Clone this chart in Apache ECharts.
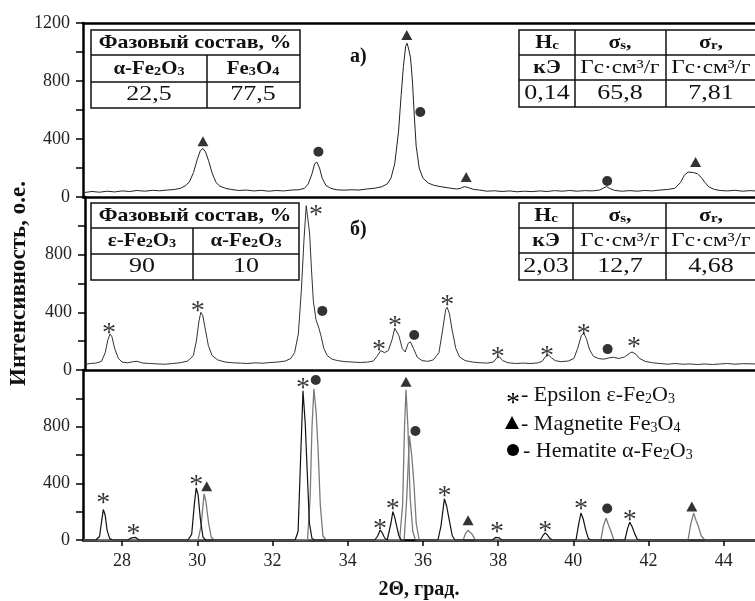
<!DOCTYPE html>
<html>
<head>
<meta charset="utf-8">
<script src="https://cdn.jsdelivr.net/npm/echarts@6/dist/echarts.min.js"></script>
<style>
html, body { margin: 0; padding: 0; background: #fff; }
#chart { width: 755px; height: 601px; }
</style>
</head>
<body>
<div id="chart"></div>
<script>
// 2θ range and tick labels
const X_MIN = 26.96;
const X_MAX = 44.83;
const xTicks = [28, 30, 32, 34, 36, 38, 40, 42, 44];

// а) measured pattern
const patternA = [
  [26.97,30],[27.2,38],[27.4,33],[27.6,40],[27.8,35],[28.0,42],[28.2,38],[28.4,45],[28.6,40],[28.8,46],
  [29.0,43],[29.2,48],[29.4,52],[29.55,60],[29.7,80],[29.8,110],[29.9,170],[30.0,260],[30.08,320],[30.15,335],
  [30.22,310],[30.3,250],[30.4,160],[30.5,100],[30.6,75],[30.75,60],[30.9,52],[31.1,45],[31.3,48],[31.5,42],
  [31.7,46],[31.9,40],[32.1,45],[32.3,42],[32.5,48],[32.7,50],[32.85,60],[32.95,90],[33.05,160],[33.12,230],
  [33.18,240],[33.25,200],[33.32,130],[33.42,80],[33.55,60],[33.7,50],[33.9,47],[34.1,50],[34.3,48],[34.5,55],
  [34.7,60],[34.9,70],[35.05,90],[35.15,130],[35.25,230],[35.35,450],[35.42,700],[35.48,900],[35.54,1040],[35.58,1060],
  [35.62,1020],[35.67,960],[35.72,800],[35.77,560],[35.82,350],[35.9,200],[36.0,130],[36.15,95],[36.3,80],[36.5,70],
  [36.7,62],[36.9,55],[37.0,60],[37.1,72],[37.2,65],[37.35,52],[37.5,48],[37.7,40],[37.9,43],[38.1,38],
  [38.3,42],[38.5,36],[38.7,40],[38.9,37],[39.1,42],[39.3,38],[39.5,44],[39.7,40],[39.9,45],[40.1,40],
  [40.3,44],[40.5,42],[40.7,48],[40.8,62],[40.88,72],[40.96,60],[41.1,45],[41.3,40],[41.5,44],[41.7,40],
  [41.9,45],[42.1,42],[42.3,48],[42.5,52],[42.7,60],[42.85,100],[42.95,150],[43.05,172],[43.2,168],[43.3,160],
  [43.4,135],[43.5,100],[43.6,70],[43.75,52],[43.9,45],[44.1,42],[44.3,46],[44.5,40],[44.7,44],[44.83,42]
];
const triA = [[30.15,385],[35.57,1117],[37.15,138],[43.25,241]];
const circA = [[33.22,312],[35.93,586],[40.9,110]];

// б) measured pattern
const patternB = [
  [26.97,40],[27.1,45],[27.25,48],[27.4,60],[27.5,120],[27.57,210],[27.63,250],[27.68,230],[27.75,150],[27.85,80],
  [27.95,55],[28.1,50],[28.25,58],[28.35,60],[28.5,48],[28.7,45],[28.9,42],[29.1,40],[29.3,45],[29.5,50],
  [29.7,62],[29.85,100],[29.93,200],[30.0,340],[30.05,400],[30.1,380],[30.17,280],[30.25,170],[30.35,100],[30.5,70],
  [30.7,55],[30.9,50],[31.1,48],[31.3,45],[31.5,50],[31.7,47],[31.9,52],[32.1,55],[32.3,62],[32.45,80],
  [32.55,120],[32.65,250],[32.73,550],[32.8,900],[32.86,1140],[32.9,1130],[32.95,950],[33.0,700],[33.05,480],[33.12,350],
  [33.2,290],[33.26,230],[33.33,150],[33.42,100],[33.55,75],[33.7,65],[33.9,58],[34.1,55],[34.3,52],[34.5,55],
  [34.65,62],[34.75,95],[34.85,135],[34.95,120],[35.05,135],[35.15,210],[35.22,290],[35.27,300],[35.33,240],[35.42,150],
  [35.5,125],[35.58,185],[35.64,195],[35.72,150],[35.82,90],[35.95,65],[36.1,60],[36.25,70],[36.4,120],[36.5,280],
  [36.58,420],[36.62,435],[36.68,390],[36.75,280],[36.85,150],[36.95,90],[37.1,65],[37.3,55],[37.5,50],[37.7,48],
  [37.85,55],[37.95,85],[38.02,90],[38.1,65],[38.25,50],[38.45,45],[38.65,48],[38.85,45],[39.05,50],[39.15,60],
  [39.25,95],[39.32,105],[39.4,85],[39.5,65],[39.65,58],[39.85,62],[40.0,80],[40.1,150],[40.2,240],[40.26,255],
  [40.33,220],[40.42,140],[40.52,95],[40.65,80],[40.8,75],[40.95,85],[41.05,88],[41.2,80],[41.35,90],[41.48,115],
  [41.55,125],[41.65,110],[41.75,80],[41.9,60],[42.1,50],[42.3,45],[42.5,40],[42.7,45],[42.9,40],[43.1,42],
  [43.3,38],[43.5,42],[43.7,38],[43.9,42],[44.1,45],[44.3,40],[44.5,44],[44.83,42]
];
const starB = [[27.6,312],[29.97,465],[33.12,1130],[34.8,195],[35.23,360],[36.62,506],[37.97,145],[39.28,152],[40.26,305],[41.6,215]];
const circB = [[33.29,410],[35.74,243],[40.9,145]];

// reference lines: epsilon, magnetite, hematite
const epsRef = [
  [26.97,0],[27.3,0],[27.4,25],[27.46,140],[27.5,215],[27.55,175],[27.6,70],[27.67,10],[27.75,0],
  [28.15,0],[28.25,15],[28.3,28],[28.36,18],[28.45,0],
  [29.75,0],[29.85,40],[29.92,250],[29.97,368],[30.02,320],[30.08,150],[30.15,20],[30.22,0],
  [32.6,0],[32.68,60],[32.75,600],[32.81,1054],[32.87,820],[32.92,500],[32.98,120],[33.05,10],[33.12,0],
  [34.72,0],[34.8,30],[34.86,69],[34.92,50],[34.98,15],[35.05,0],
  [35.08,0],[35.15,120],[35.2,200],[35.25,160],[35.3,100],[35.36,30],[35.42,0],
  [36.4,0],[36.48,100],[36.57,290],[36.63,240],[36.7,140],[36.78,30],[36.85,0],
  [37.85,0],[37.93,18],[37.97,22],[38.03,15],[38.1,0],
  [39.12,0],[39.2,35],[39.25,50],[39.31,35],[39.38,10],[39.45,0],
  [40.07,0],[40.14,110],[40.2,190],[40.26,150],[40.33,70],[40.4,10],[40.47,0],
  [41.37,0],[41.44,80],[41.5,125],[41.56,95],[41.63,45],[41.7,5],[41.77,0],
  [44.83,0]
];
const magRef = [
  [26.97,0],[30.02,0],[30.1,100],[30.18,326],[30.23,270],[30.3,120],[30.37,20],[30.45,0],
  [35.38,0],[35.46,250],[35.51,800],[35.55,1061],[35.6,800],[35.66,300],[35.73,60],[35.8,0],
  [37.07,0],[37.13,45],[37.2,70],[37.25,55],[37.31,40],[37.38,5],[37.45,0],
  [43.05,0],[43.12,110],[43.2,190],[43.26,140],[43.32,100],[43.4,30],[43.48,5],[43.55,0],[44.83,0]
];
const hemRef = [
  [26.97,0],[32.93,0],[33.0,300],[33.05,800],[33.1,1068],[33.16,900],[33.21,650],[33.27,250],[33.34,30],[33.42,0],
  [35.5,0],[35.57,300],[35.64,735],[35.7,600],[35.76,400],[35.82,120],[35.9,0],
  [40.73,0],[40.8,100],[40.87,155],[40.93,110],[41.0,60],[41.07,5],[41.14,0],[44.83,0]
];
const starC = [[27.5,320],[28.3,104],[29.97,450],[32.81,1130],[34.86,140],[35.2,278],[36.57,368],[37.97,118],[39.25,125],[40.2,277],[41.5,200]];
const triC = [[30.25,380],[35.55,1117],[37.2,139],[43.15,236]];
const circC = [[33.15,1130],[35.8,770],[40.9,222]];

const SERIF = '"Liberation Serif", "Times New Roman", serif';

const chart = echarts.init(document.getElementById('chart'));

const grids = [
  { left: 83, right: 0, top: 23, height: 174 },
  { left: 83, right: 0, top: 197, height: 173 },
  { left: 83, right: 0, top: 370, height: 174 }
];

const baseX = (gridIndex) => ({
  gridIndex, type: 'value', min: X_MIN, max: X_MAX,
  axisLine: { lineStyle: { color: '#000', width: 2.5 } },
  axisTick: { show: false }, axisLabel: { show: false }, splitLine: { show: false }
});

const baseY = (gridIndex, showTop) => ({
  gridIndex, type: 'value', min: 0, max: 1200, interval: 200,
  axisLine: { show: true, lineStyle: { color: '#000', width: 2.5 } },
  axisTick: { show: true, length: 7, lineStyle: { color: '#000', width: 1.5 } },
  axisLabel: {
    margin: 13, fontFamily: SERIF, fontSize: 18, color: '#222',
    formatter: (v) => (v % 400 === 0 && (showTop || v < 1200)) ? String(v) : ''
  },
  splitLine: { show: false }
});

const xAxes = [
  baseX(0),
  Object.assign(baseX(0), { position: 'top' }),
  baseX(1),
  Object.assign(baseX(2), {
    axisTick: { show: true, length: 6, customValues: xTicks, lineStyle: { color: '#000', width: 1.5 } },
    axisLabel: { show: true, customValues: xTicks, margin: 12, fontFamily: SERIF, fontSize: 18, color: '#222' },
    name: '2Θ, град.', nameLocation: 'middle', nameGap: 40,
    nameTextStyle: { fontFamily: SERIF, fontSize: 20, fontWeight: 'bold', color: '#111' }
  })
];

const yAxes = [
  baseY(0, true),
  Object.assign(baseY(1, false), {
    name: 'Интенсивность, о.е.', nameLocation: 'middle', nameRotate: 90, nameGap: 54,
    nameTextStyle: { fontFamily: SERIF, fontSize: 23, fontWeight: 'bold', color: '#111' }
  }),
  baseY(2, false)
];

const lineSeries = (data, xi, yi, color, width) => ({
  type: 'line', data, xAxisIndex: xi, yAxisIndex: yi, showSymbol: false,
  lineStyle: { color, width }, z: 2, silent: true
});

const starSeries = (data, xi, yi) => ({
  type: 'scatter', data, xAxisIndex: xi, yAxisIndex: yi, symbolSize: 1,
  itemStyle: { color: 'transparent' }, z: 5,
  label: { show: true, formatter: '*', position: 'inside', offset: [0, 9],
    fontFamily: SERIF, fontSize: 28, color: '#000' }
});

const markSeries = (data, xi, yi, symbol, size) => ({
  type: 'scatter', data, xAxisIndex: xi, yAxisIndex: yi, symbol, symbolSize: size,
  itemStyle: { color: '#000' }, z: 5
});

// table helpers
const rich = {
  s: { fontSize: 13, fontFamily: SERIF, fontWeight: 'bold', verticalAlign: 'bottom', fill: '#111' },
  sn: { fontSize: 14, fontFamily: SERIF, verticalAlign: 'bottom', fill: '#111' }
};
const cell = (x, y, text, bold, size, sx) => ({
  type: 'text', x, y, scaleX: sx, z: 20,
  style: {
    text, fill: '#111', align: 'center', verticalAlign: 'middle',
    fontFamily: SERIF, fontSize: size, fontWeight: bold ? 'bold' : 'normal', rich
  }
});
const head = (x, y, t) => cell(x, y, t, true, 19, 1.15);
const num = (x, y, t) => cell(x, y, t, false, 20, 1.3);
const unit = (x, y) => cell(x, y, 'Гс·см³/г', false, 19, 1.22);
const box = (x1, y1, x2, y2) => ({
  type: 'rect', shape: { x: x1, y: y1, width: x2 - x1, height: y2 - y1 }, z: 19,
  style: { fill: '#fff', stroke: '#111', lineWidth: 1.5 }
});
const hl = (x1, x2, y) => ({
  type: 'line', shape: { x1, y1: y, x2, y2: y }, z: 20, style: { stroke: '#111', lineWidth: 1.5 }
});
const vl = (x, y1, y2) => ({
  type: 'line', shape: { x1: x, y1, x2: x, y2 }, z: 20, style: { stroke: '#111', lineWidth: 1.5 }
});
const legendText = (x, y, text) => ({
  type: 'text', x, y, z: 20,
  style: { text, fill: '#111', verticalAlign: 'middle', fontFamily: SERIF, fontSize: 22, rich }
});

const graphics = [
  // panel a: phase table
  box(91, 30, 300, 108), hl(91, 300, 55), hl(91, 300, 82), vl(207, 55, 108),
  head(195, 43, 'Фазовый состав, %'),
  cell(149, 69, 'α-Fe{s|2}O{s|3}', true, 19, 1.1), cell(253, 69, 'Fe{s|3}O{s|4}', true, 19, 1.1),
  num(149, 95, '22,5'), num(253, 95, '77,5'),
  // panel a: magnetic table
  box(519, 30, 758, 107), hl(519, 758, 55), hl(519, 758, 80), vl(575, 30, 107), vl(666, 30, 107),
  head(547, 43, 'H{s|c}'), head(620, 43, 'σ{s|s},'), head(711, 43, 'σ{s|r},'),
  head(547, 68, 'кЭ'), unit(620, 68), unit(711, 68),
  num(547, 94, '0,14'), num(620, 94, '65,8'), num(711, 94, '7,81'),
  { type: 'text', x: 350, y: 57, z: 20, style: { text: 'а)', fill: '#111', verticalAlign: 'middle', fontFamily: SERIF, fontSize: 20, fontWeight: 'bold' } },

  // panel b: phase table
  box(91, 203, 299, 280), hl(91, 299, 228), hl(91, 299, 254), vl(193, 228, 280),
  head(195, 216, 'Фазовый состав, %'),
  cell(142, 241, 'ε-Fe{s|2}O{s|3}', true, 19, 1.1), cell(246, 241, 'α-Fe{s|2}O{s|3}', true, 19, 1.1),
  num(142, 267, '90'), num(246, 267, '10'),
  // panel b: magnetic table
  box(519, 203, 758, 280), hl(519, 758, 228), hl(519, 758, 253), vl(573, 203, 280), vl(666, 203, 280),
  head(546, 216, 'H{s|c}'), head(620, 216, 'σ{s|s},'), head(711, 216, 'σ{s|r},'),
  head(546, 241, 'кЭ'), unit(620, 241), unit(711, 241),
  num(546, 267, '2,03'), num(620, 267, '12,7'), num(711, 267, '4,68'),
  { type: 'text', x: 350, y: 230, z: 20, style: { text: 'б)', fill: '#111', verticalAlign: 'middle', fontFamily: SERIF, fontSize: 20, fontWeight: 'bold' } },

  // legend in bottom panel
  { type: 'text', x: 513, y: 404, z: 20, style: { text: '*', fill: '#000', align: 'center', verticalAlign: 'middle', fontFamily: SERIF, fontSize: 28 } },
  { type: 'polygon', z: 20, shape: { points: [[512, 416], [505, 429], [519, 429]] }, style: { fill: '#000' } },
  { type: 'circle', z: 20, shape: { cx: 513, cy: 450, r: 6 }, style: { fill: '#000' } },
  legendText(521, 395, '- Epsilon ε-Fe{sn|2}O{sn|3}'),
  legendText(521, 424, '- Magnetite Fe{sn|3}O{sn|4}'),
  legendText(523, 451, '- Hematite α-Fe{sn|2}O{sn|3}')
];

const option = {
  animation: false,
  backgroundColor: '#fff',
  grid: grids,
  xAxis: xAxes,
  yAxis: yAxes,
  series: [
    lineSeries(patternA, 0, 0, '#222', 1),
    markSeries(triA, 0, 0, 'triangle', [11, 10]),
    markSeries(circA, 0, 0, 'circle', 10),
    lineSeries(patternB, 2, 1, '#333', 1),
    starSeries(starB, 2, 1),
    markSeries(circB, 2, 1, 'circle', 10),
    lineSeries(magRef, 3, 2, '#7a7a7a', 1.3),
    lineSeries(hemRef, 3, 2, '#7a7a7a', 1.3),
    lineSeries(epsRef, 3, 2, '#111', 1.2),
    starSeries(starC, 3, 2),
    markSeries(triC, 3, 2, 'triangle', [11, 10]),
    markSeries(circC, 3, 2, 'circle', 10)
  ],
  graphic: graphics
};

chart.setOption(option);
window.addEventListener('resize', () => chart.resize());
</script>
</body>
</html>
